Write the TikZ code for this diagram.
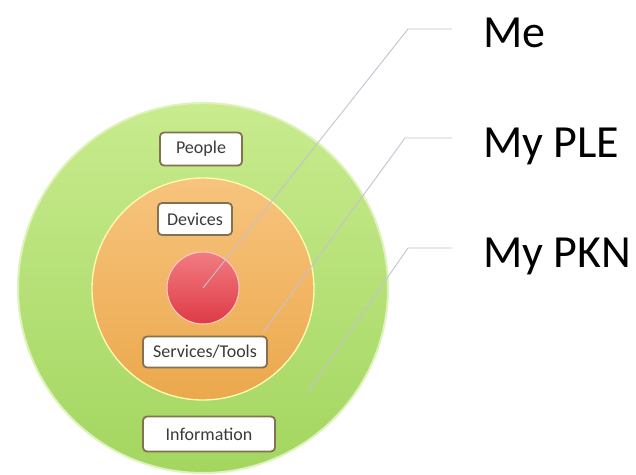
\documentclass[tikz,border=0pt]{standalone}
\usepackage{fontspec}
\setmainfont{Carlito}
\usepackage{tikz}
\usetikzlibrary{positioning,calc}

\definecolor{ringgreen}{HTML}{A3D660}
\definecolor{ringgreenlt}{HTML}{C8EB8E}
\definecolor{ringorange}{HTML}{EBA84C}
\definecolor{ringorangelt}{HTML}{F7C47E}
\definecolor{coreredlt}{HTML}{F27C82}
\definecolor{corered}{HTML}{DE3A45}
\definecolor{boxedge}{HTML}{85714F}
\definecolor{leader}{HTML}{C6C0D2}
\definecolor{boxtext}{HTML}{3A3A3A}

\begin{document}
\begin{tikzpicture}[x=1pt,y=-1pt]
  \tikzstyle{ring}=[circle,inner sep=0pt]
  \tikzstyle{tag}=[rounded corners=4pt,draw=boxedge,line width=1.8pt,fill=white,text=boxtext,
    font=\fontsize{18}{21}\selectfont,inner sep=0pt]
  \tikzstyle{lbl}=[anchor=base west,inner sep=0pt,font=\fontsize{46}{52}\selectfont]
  \tikzstyle{lead}=[draw=leader,line width=0.9pt]
  \useasboundingbox (0,0) rectangle (636,474);
  % rings
  \node[ring,minimum size=370pt,top color=ringgreenlt,bottom color=ringgreen,draw=ringgreenlt!60!white,line width=2pt] (pkn) at (203,288) {};
  \node[ring,minimum size=222pt,top color=ringorangelt,bottom color=ringorange,draw=yellow!30!white,line width=1.3pt] (ple) at (203,289) {};
  \node[ring,minimum size=72pt,top color=coreredlt,bottom color=corered,draw=red!20!white,line width=1pt] (me) at (203,288) {};
  % boxes
  \node[tag,minimum width=82pt,minimum height=33pt] (people) at (201,149) {People};
  \node[tag,minimum width=74pt,minimum height=32pt] (devices) at (195,219) {Devices};
  \node[tag,minimum width=124pt,minimum height=31pt] (tools) at (205,352) {Services/Tools};
  \node[tag,minimum width=132pt,minimum height=35pt] (info) at (209,434) {Information};
  % labels
  \node[lbl] (lblMe) at (483,47) {Me};
  \node[lbl] (lblPle) at (483,157) {My PLE};
  \node[lbl] (lblPkn) at (483,267) {My PKN};
  % leader lines
  \coordinate (meA) at (452,29);  \coordinate (meB) at (408,29);
  \coordinate (pleA) at (452,138); \coordinate (pleB) at (405,138); \coordinate (pleC) at (263,333);
  \coordinate (pknA) at (452,248); \coordinate (pknB) at (408,248); \coordinate (pknC) at (308,392);
  \draw[lead] (meA) -- (meB) -- (me.center);
  \draw[lead] (pleA) -- (pleB) -- (pleC);
  \draw[lead] (pknA) -- (pknB) -- (pknC);
\end{tikzpicture}
\end{document}
